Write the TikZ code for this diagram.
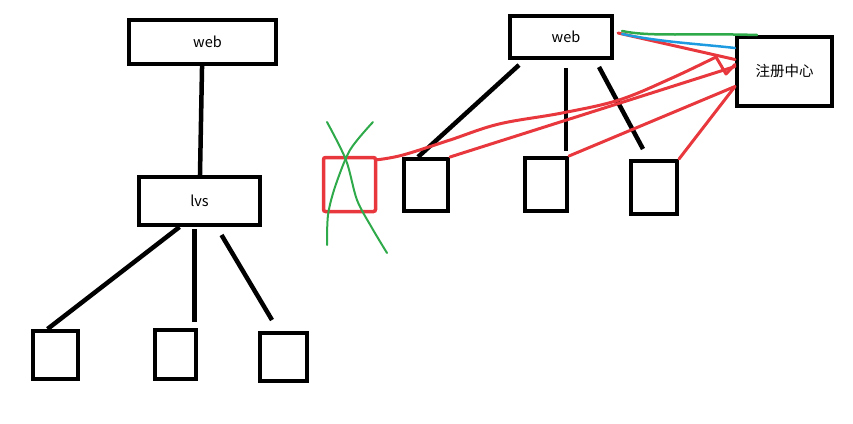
\documentclass[tikz,border=0pt]{standalone}
\usepackage{fontspec}
\setmainfont{Noto Sans CJK SC}
\usepackage{tikz}
\definecolor{penred}{HTML}{E8383D}
\definecolor{pengreen}{HTML}{2FAA4A}
\definecolor{penblue}{HTML}{1E9BE0}

\begin{document}
\begin{tikzpicture}[x=1pt,y=-1pt,line width=4.5pt,
  box/.style={draw,line width=4pt,inner sep=0pt,font=\fontsize{14.5}{16}\selectfont},
  wire/.style={line width=4.5pt},
  regline/.style={penred,line width=3pt,line cap=round,line join=round}]
\path[use as bounding box] (0,0) rectangle (853,423);
% left: web -> lvs -> nodes
\node[box,minimum width=147pt,minimum height=44pt] (webL) at (202.5,42) {\hspace{10pt}web};
\node[box,minimum width=121pt,minimum height=48pt] (lvs) at (199.5,201) {lvs};
\node[box,minimum width=45pt,minimum height=48pt] (leafa) at (55.5,355) {};
\node[box,minimum width=41pt,minimum height=49pt] (leafb) at (175.5,354.5) {};
\node[box,minimum width=47pt,minimum height=48pt] (leafc) at (283.5,357) {};
\draw[wire] (webL) -- (lvs);
\draw[wire] ([xshift=-20pt]lvs.south) -- ([xshift=-8pt]leafa.north);
\draw[wire] ([xshift=-5pt,yshift=-2pt]lvs.south) -- ([xshift=19pt,yshift=6pt]leafb.north);
\draw[wire] ([xshift=22pt,yshift=-8pt]lvs.south) -- ([xshift=-11.5pt,yshift=11pt]leafc.north);
% right: web with registry
\node[box,minimum width=102pt,minimum height=42pt] (webR) at (561,37) {\hspace{10pt}web};
\node[box,minimum width=95pt,minimum height=69pt] (reg) at (784.5,71.5) {注册中心};
\node[draw=penred,line width=3.5pt,rounded corners=2pt,minimum width=52pt,minimum height=54pt] (dead) at (349.5,184.5) {};
\node[box,minimum width=44pt,minimum height=52pt] (nodea) at (426,185) {};
\node[box,minimum width=42pt,minimum height=53pt] (nodeb) at (546,184.5) {};
\node[box,minimum width=46pt,minimum height=53pt] (nodec) at (654,187.5) {};
\draw[wire] ([xshift=-42pt,yshift=-5pt]webR.south) -- ([xshift=-8pt]nodea.north);
\draw[wire] ([xshift=5pt,yshift=-8pt]webR.south) -- ([xshift=20pt,yshift=5pt]nodeb.north);
\draw[wire] ([xshift=38pt,yshift=-7pt]webR.south) -- ([xshift=-11pt,yshift=10pt]nodec.north);
% registrations
\coordinate (deadout) at ([yshift=-4pt]dead.north east);
\coordinate (regin) at ([yshift=7pt]reg.west);
\draw[regline] plot[smooth,tension=0.6] coordinates {(deadout) (403,155) (450,140) (499,124) (562,113) (619,100) (672,78) (716,57)} -- (726,74) -- (regin);
\draw[regline] (nodea.north east) -- ([yshift=5pt]reg.west);
\draw[regline] (nodeb.north east) -- ([yshift=-15pt]reg.west);
\draw[regline] (nodec.north east) -- ([yshift=-15pt]reg.west);
\draw[regline] ([xshift=4pt,yshift=4pt]webR.east) -- ([yshift=12pt]reg.west);
\draw[penblue,line width=2.5pt,line cap=round] ([xshift=8pt,yshift=3pt]webR.east) .. controls (660,42) and (700,44) .. ([yshift=23.5pt]reg.west);
\draw[pengreen,line width=2.5pt,line cap=round] ([xshift=8pt,yshift=6pt]webR.east) .. controls (650,37) and (690,33) .. ([xshift=-27.5pt]reg.north);
% crossed out
\draw[pengreen,line width=2pt,line cap=round] plot[smooth] coordinates {(327,122) (346,160) (357,200) (372,228) (387,253)};
\draw[pengreen,line width=2pt,line cap=round] plot[smooth] coordinates {(373,122) (350,150) (335,187) (328,215) (327,245)};
\end{tikzpicture}
\end{document}
